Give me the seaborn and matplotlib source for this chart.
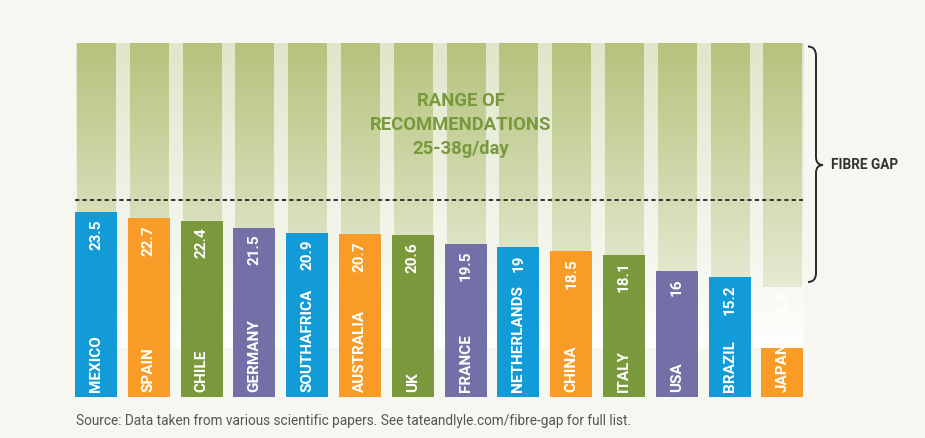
import numpy as np
import matplotlib
matplotlib.use("Agg")
import matplotlib.pyplot as plt
from matplotlib.path import Path
from matplotlib.patches import PathPatch
from matplotlib.transforms import Affine2D
import seaborn as sns

# ---- data ----
countries = ["MEXICO", "SPAIN", "CHILE", "GERMANY", "SOUTHAFRICA", "AUSTRALIA", "UK",
             "FRANCE", "NETHERLANDS", "CHINA", "ITALY", "USA", "BRAZIL", "JAPAN"]
values = [23.5, 22.7, 22.4, 21.5, 20.9, 20.7, 20.6, 19.5, 19, 18.5, 18.1, 16, 15.2, 14.5]
value_labels = ["23.5", "22.7", "22.4", "21.5", "20.9", "20.7", "20.6", "19.5", "19",
                "18.5", "18.1", "16", "15.2", "14.5"]
bar_colors = ["#129bd6", "#f89b27", "#7a993d", "#7270a6"] * 3 + ["#129bd6", "#f89b27"]
recommended_min = 25
range_text = ["RANGE OF", "RECOMMENDATIONS", "25-38g/day"]
gap_label = "FIBRE GAP"
source = "Source: Data taken from various scientific papers. See tateandlyle.com/fibre-gap for full list."

W, H = 925, 438
BG = "#f7f7f2"
sns.set_theme(style="white")
plt.rcParams["font.family"] = ["Roboto", "DejaVu Sans"]

fig = plt.figure(figsize=(W / 100, H / 100), dpi=100, facecolor=BG)
ax = fig.add_axes([0, 0, 1, 1])
ax.set_facecolor(BG)

# pixel mapping: bar i centre at 96 + 52.8 i px; value 0 at 397 px; 7.87 px per unit
PX, X0, PY, Y0 = 52.8, 96.0, 7.87, 397.0
xlim = (-X0 / PX, (W - X0) / PX)
ylim = ((Y0 - H) / PY, Y0 / PY)

def hex2rgb(h):
    h = h.lstrip("#")
    return np.array([int(h[i:i + 2], 16) for i in (0, 2, 4)]) / 255.0

def vgrad(top, bottom, n=200):
    t = np.linspace(0, 1, n)[:, None]
    g = hex2rgb(top) * (1 - t) + hex2rgb(bottom) * t
    return g[:, None, :]

# panel background (light gradient)
panel_top, panel_bottom = (Y0 - 43) / PY, (Y0 - 348) / PY
ax.imshow(vgrad("#e0e6cb", "#fefefd"), extent=((76 - X0) / PX, (804 - X0) / PX, panel_bottom, panel_top),
          aspect="auto", interpolation="bilinear", zorder=0.5)
# darker gradient columns
col_bottom = (Y0 - 287) / PY
for i in range(len(countries)):
    ax.imshow(vgrad("#b5c37c", "#e5ead3"), extent=(i - 0.36, i + 0.36, col_bottom, panel_top),
              aspect="auto", interpolation="bilinear", zorder=0.6)

# bars
sns.barplot(x=countries, y=values, hue=countries, palette=bar_colors, width=0.795,
            saturation=1, legend=False, ax=ax, zorder=2)
for i, p in enumerate(ax.patches):
    p.set_edgecolor("none")
    if i == len(countries) - 1:
        p.set_zorder(0.4)  # Japan bar sits behind the panel in the original

for i, (c, v, vl) in enumerate(zip(countries, values, value_labels)):
    last = i == len(countries) - 1
    ax.text(i, 5 / PY, c, rotation=90, ha="center", va="bottom", color="white",
            fontsize=11, fontweight="bold", zorder=0.45 if last else 3)
    ax.text(i, v - 7 / PY, vl, rotation=90, ha="center", va="top", color="white",
            fontsize=11, fontweight="bold", zorder=3)

# dotted line for recommended minimum
ax.plot([(75 - X0) / PX, (803 - X0) / PX], [recommended_min, recommended_min],
        color="#333333", lw=1.4, ls=(0, (2.2, 1.6)), zorder=1)

# range text
for k, t in enumerate(range_text):
    ax.text((461 - X0) / PX, (Y0 - (101.5 + 23.5 * k)) / PY, t, ha="center", va="center",
            color="#7a993d", fontsize=13.3, fontweight="bold", zorder=3)

ax.set_xlim(*xlim)
ax.set_ylim(*ylim)
ax.axis("off")

# curly brace in pixel coords
tr = Affine2D().scale(1 / W, -1 / H).translate(0, 1) + fig.transFigure
verts = [(808, 46.5), (816, 46.5), (816, 56), (816, 157), (816, 165), (823, 165),
         (816, 165), (816, 173), (816, 273), (816, 282), (808, 282)]
codes = [Path.MOVETO, Path.CURVE3, Path.CURVE3, Path.LINETO, Path.CURVE3, Path.CURVE3,
         Path.CURVE3, Path.CURVE3, Path.LINETO, Path.CURVE3, Path.CURVE3]
fig.patches.append(PathPatch(Path(verts, codes), transform=tr, fill=False,
                             edgecolor="#2b2b2b", lw=1.4))
fig.text(831 / W, 1 - 165 / H, gap_label, ha="left", va="center", color="#333333",
         fontsize=9.8, fontweight="bold")
fig.text(76 / W, 1 - 421.5 / H, source, ha="left", va="center", color="#555555", fontsize=9.8)

fig.savefig("out.png", dpi=100, facecolor=BG)
